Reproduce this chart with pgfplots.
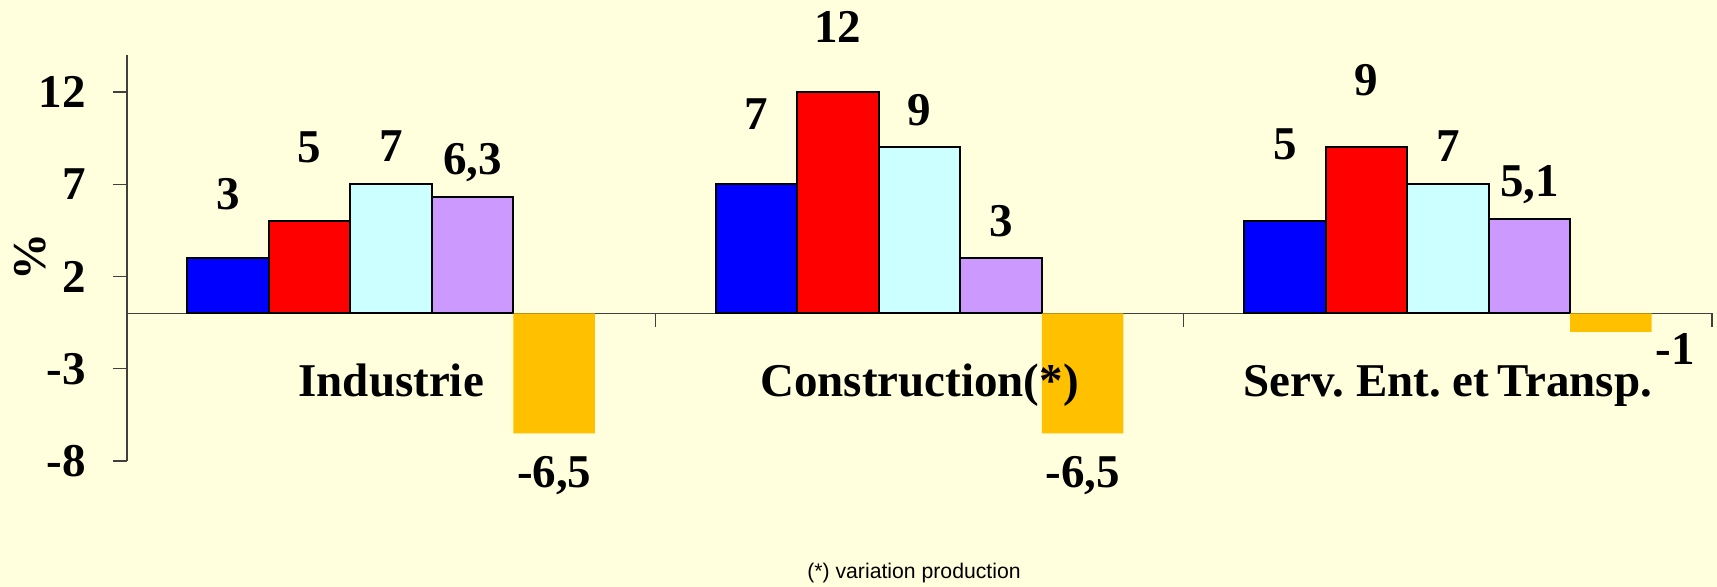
\documentclass[border=0pt]{standalone}
\usepackage{pgfplots}
\pgfplotsset{compat=1.18}
\usepackage{fontspec}
\setmainfont{Liberation Serif}
\newfontfamily\arialf{Liberation Sans}
\definecolor{bg}{HTML}{FFFFDD}
\definecolor{cblue}{HTML}{0000FF}
\definecolor{cred}{HTML}{FF0000}
\definecolor{ccyan}{HTML}{CCFFFF}
\definecolor{cpurp}{HTML}{CC99FF}
\definecolor{corange}{HTML}{FFC000}
\definecolor{axc}{HTML}{404040}
\newcommand\bigf{\fontsize{23.5}{28}\selectfont\bfseries}
\begin{document}
\begin{tikzpicture}
\fill[bg] (0,0) rectangle (858.5pt,293.5pt);
\useasboundingbox (0,0) rectangle (858.5pt,293.5pt);
\begin{axis}[
  at={(63.5pt,63pt)}, anchor=south west,
  scale only axis, width=792.5pt, height=203pt,
  xmin=-0.5, xmax=2.5, ymin=-8, ymax=14,
  axis x line=none, axis y line=left,
  y axis line style={-, draw=axc, line width=0.6pt},
  ytick={-8,-3,2,7,12},
  tick align=outside, major tick length=7pt,
  ytick style={draw=axc, line width=0.6pt},
  yticklabel style={font=\bigf, /pgf/number format/assume math mode=true, inner sep=0pt, xshift=-13.5pt},
  ybar, bar width=0.1543, bar shift=0pt,
  clip=false,
]
\draw[axc, line width=0.6pt] (axis cs:-0.5,0) -- (axis cs:2.5,0);
\draw[axc, line width=0.6pt] (axis cs:0.5,0) -- ([yshift=-7pt]axis cs:0.5,0);
\draw[axc, line width=0.6pt] (axis cs:1.5,0) -- ([yshift=-7pt]axis cs:1.5,0);
\draw[axc, line width=0.6pt] (axis cs:2.5,0) -- ([yshift=-7pt]axis cs:2.5,0);
\addplot[fill=cblue, draw=black, line width=1pt] coordinates {(-0.3086,3) (0.6914,7) (1.6914,5)};
\addplot[fill=cred, draw=black, line width=1pt] coordinates {(-0.1543,5) (0.8457,12) (1.8457,9)};
\addplot[fill=ccyan, draw=black, line width=1pt] coordinates {(0,7) (1,9) (2,7)};
\addplot[fill=cpurp, draw=black, line width=1pt] coordinates {(0.1543,6.3) (1.1543,3) (2.1543,5.1)};
\addplot[fill=corange, draw=none] coordinates {(0.3086,-6.5) (1.3086,-6.5) (2.3086,-1)};
% value labels
\node[font=\bigf, anchor=base] at (axis cs:-0.3086,5.61) {3};
\node[font=\bigf, anchor=base] at (axis cs:-0.1543,8.16) {5};
\node[font=\bigf, anchor=base] at (axis cs:0,8.23) {7};
\node[font=\bigf, anchor=base] at (axis cs:0.1543,7.51) {6,3};
\node[font=\bigf, anchor=base] at (axis cs:0.3086,-9.44) {-6,5};
\node[font=\bigf, anchor=base] at (axis cs:0.6914,9.95) {7};
\node[font=\bigf, anchor=base] at (axis cs:0.8457,14.66) {12};
\node[font=\bigf, anchor=base] at (axis cs:1,10.16) {9};
\node[font=\bigf, anchor=base] at (axis cs:1.1543,4.15) {3};
\node[font=\bigf, anchor=base] at (axis cs:1.3086,-9.44) {-6,5};
\node[font=\bigf, anchor=base] at (axis cs:1.6914,8.32) {5};
\node[font=\bigf, anchor=base] at (axis cs:1.8457,11.79) {9};
\node[font=\bigf, anchor=base] at (axis cs:2,8.21) {7};
\node[font=\bigf, anchor=base] at (axis cs:2.1543,6.32) {5,1};
\node[font=\bigf, anchor=base] at (axis cs:2.430,-2.78) {-1};
% category labels
\node[font=\bigf, anchor=base] at (axis cs:0,-4.51) {Industrie};
\node[font=\bigf, anchor=base] at (axis cs:1,-4.51) {Construction(*)};
\node[font=\bigf, anchor=base] at (axis cs:2,-4.51) {\spaceskip=0.17em Serv. Ent. et Transp.};
\end{axis}
\node[font=\bigf, rotate=90] at (15pt,165pt) {\%};
\node[font=\arialf\fontsize{10.6}{12}\selectfont] at (457pt,7pt) {(*) variation production};
\end{tikzpicture}
\end{document}
